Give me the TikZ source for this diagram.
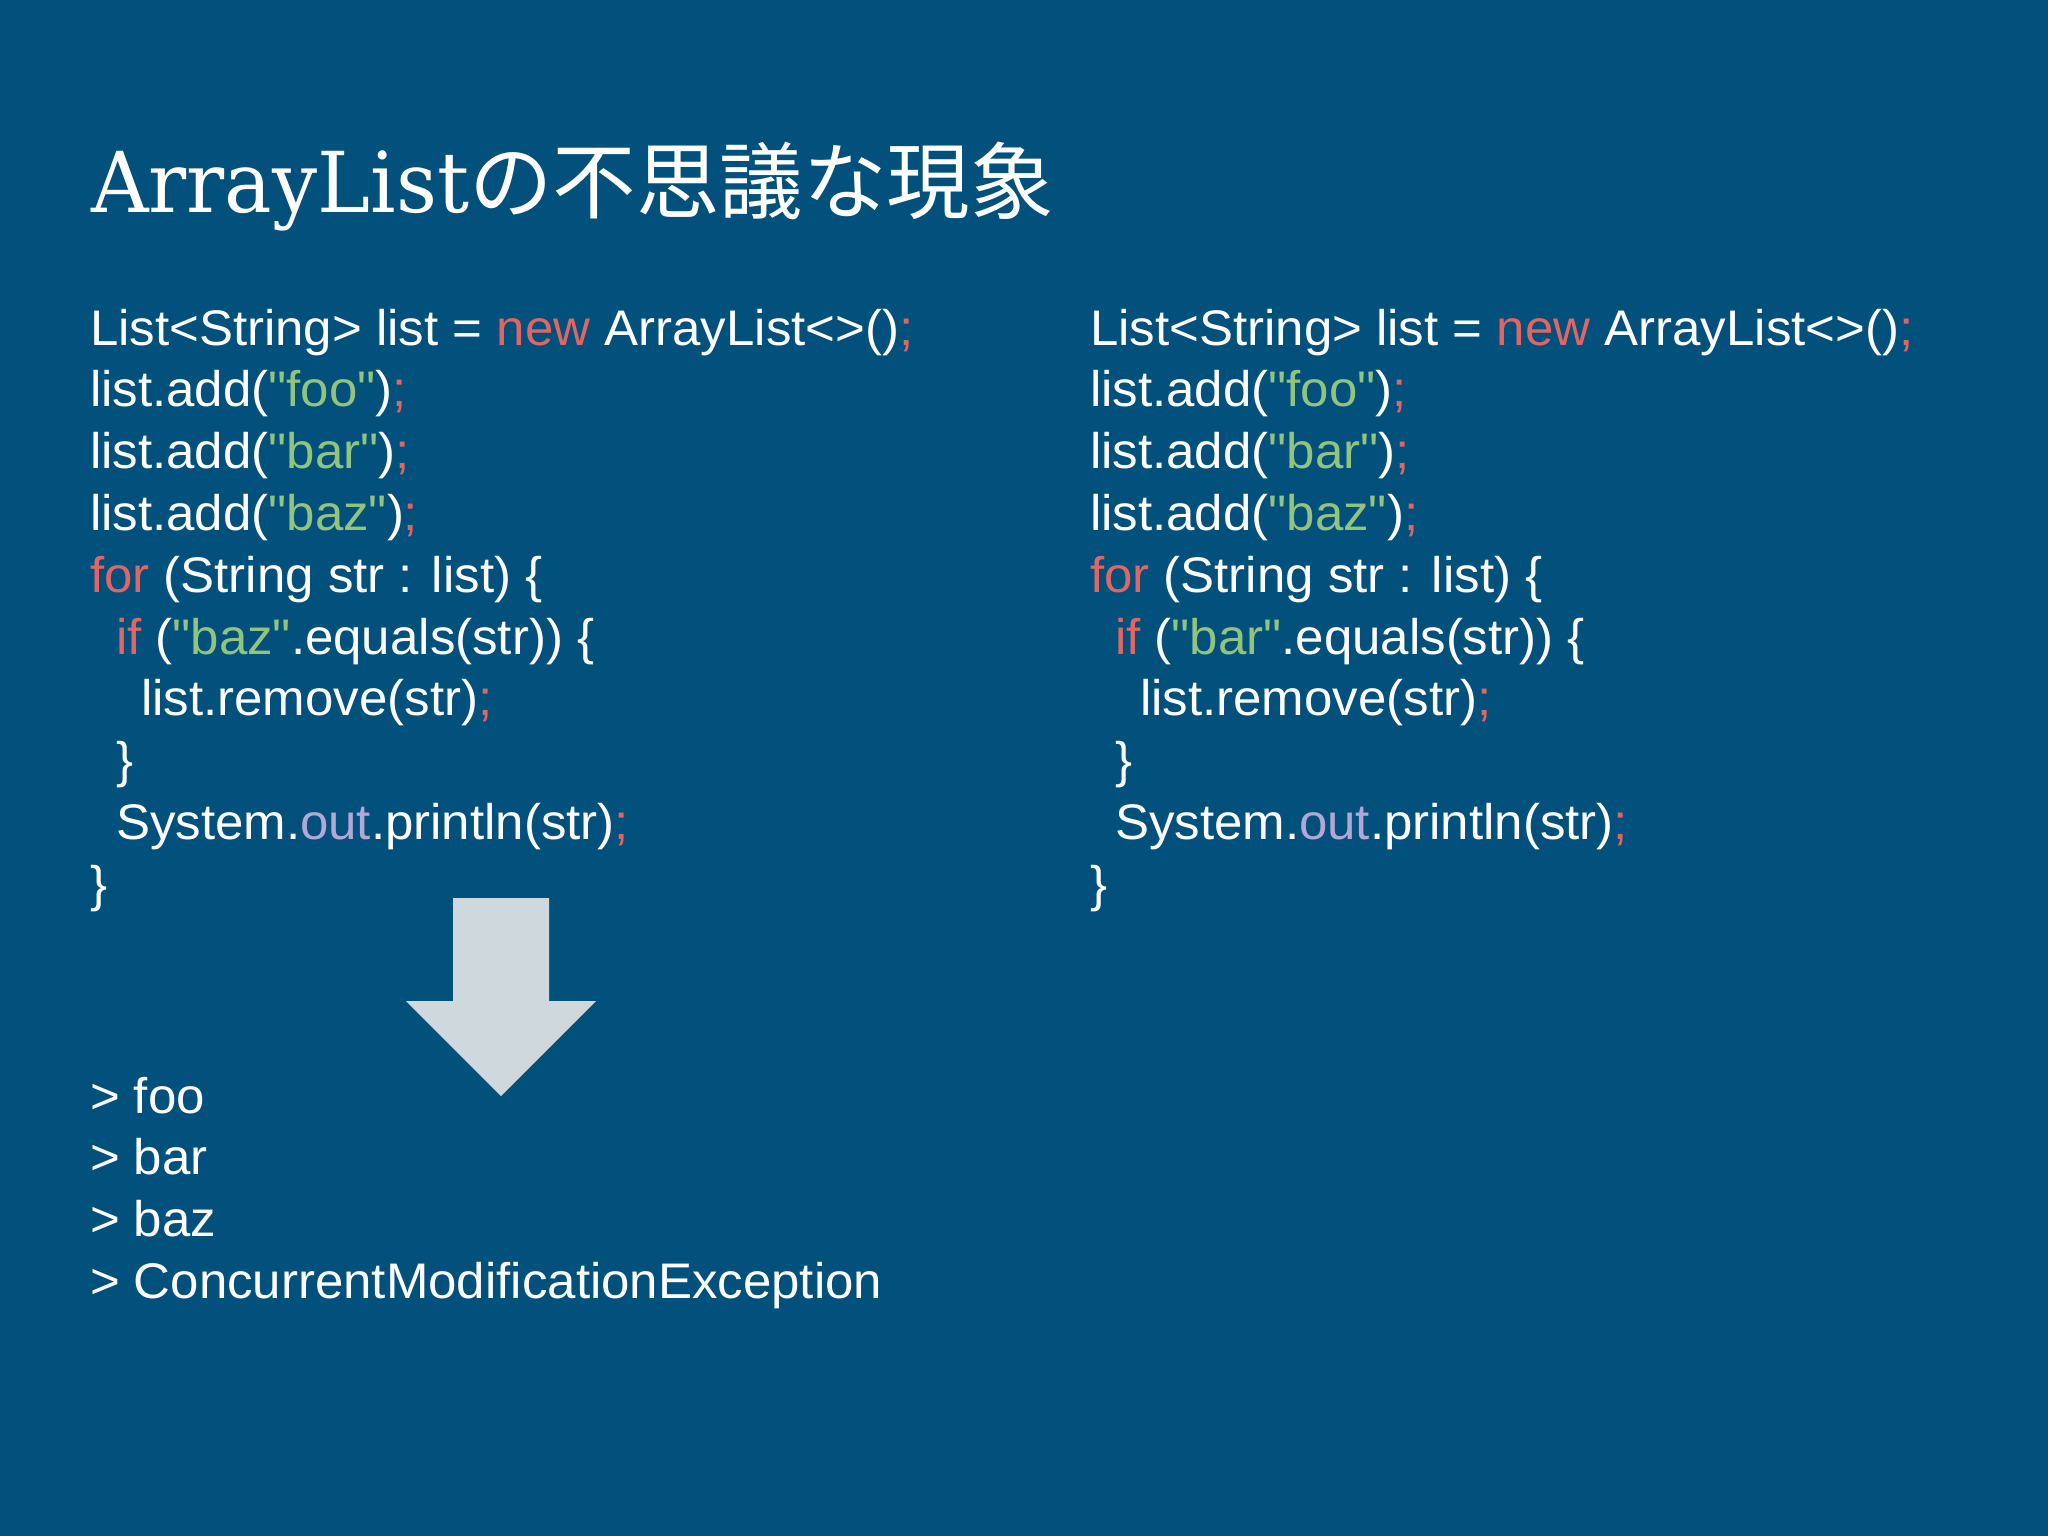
\documentclass[tikz,border=0pt]{standalone}
\usepackage{fontspec}
\setmainfont{Liberation Sans}[Ligatures=TeXOff, FakeStretch=1.02]
\newfontfamily\titlefont[FakeStretch=0.95]{DejaVu Serif}
\newfontfamily\jpfont{Noto Sans CJK JP}
\definecolor{bgblue}{HTML}{02507C}
\definecolor{kwred}{HTML}{E06666}
\definecolor{strgreen}{HTML}{93C47D}
\definecolor{fldpurple}{HTML}{B4A7D6}
\definecolor{arrowgrey}{HTML}{CFD8DC}
\newcommand{\cR}[1]{\textcolor{kwred}{#1}}
\newcommand{\cG}[1]{\textcolor{strgreen}{#1}}
\newcommand{\cP}[1]{\textcolor{fldpurple}{#1}}
\tikzset{
  codeline/.style={anchor=base west, inner sep=0pt, outer sep=0pt, text=white, font=\fontsize{50}{60}\selectfont},
  titletext/.style={anchor=base west, inner sep=0pt, outer sep=0pt, text=white},
  bigarrow/.style={fill=arrowgrey, draw=none}
}
\begin{document}
\begin{tikzpicture}[x=1pt,y=-1pt]
\fill[bgblue] (0,0) rectangle (2048,1536);
\useasboundingbox (0,0) rectangle (2048,1536);
% title
\node[titletext] (title) at (91,212) {\titlefont\fontsize{84}{90}\selectfont ArrayList\jpfont\fontsize{83.5}{90}\selectfont の不思議な現象};
% left code
\node[codeline] (a1) at (90,345) {List<String> list = \cR{new} ArrayList<>()\cR{;}};
\node[codeline] (a2) at (90,406.8) {list.add(\cG{"foo"})\cR{;}};
\node[codeline] (a3) at (90,468.6) {list.add(\cG{"bar"})\cR{;}};
\node[codeline] (a4) at (90,530.4) {list.add(\cG{"baz"})\cR{;}};
\node[codeline] (a5) at (90,592.2) {\cR{for} (String str : list) \{};
\node[codeline] (a6) at (116,654) {\cR{if} (\cG{"baz"}.equals(str)) \{};
\node[codeline] (a7) at (141,715.8) {list.remove(str)\cR{;}};
\node[codeline] (a8) at (116,777.6) {\}};
\node[codeline] (a9) at (116,839.4) {System.\cP{out}.println(str)\cR{;}};
\node[codeline] (a10) at (90,901.2) {\}};
% right code
\node[codeline] (b1) at (1090,345) {List<String> list = \cR{new} ArrayList<>()\cR{;}};
\node[codeline] (b2) at (1090,406.8) {list.add(\cG{"foo"})\cR{;}};
\node[codeline] (b3) at (1090,468.6) {list.add(\cG{"bar"})\cR{;}};
\node[codeline] (b4) at (1090,530.4) {list.add(\cG{"baz"})\cR{;}};
\node[codeline] (b5) at (1090,592.2) {\cR{for} (String str : list) \{};
\node[codeline] (b6) at (1115,654) {\cR{if} (\cG{"bar"}.equals(str)) \{};
\node[codeline] (b7) at (1140,715.8) {list.remove(str)\cR{;}};
\node[codeline] (b8) at (1115,777.6) {\}};
\node[codeline] (b9) at (1115,839.4) {System.\cP{out}.println(str)\cR{;}};
\node[codeline] (b10) at (1090,901.2) {\}};
% arrow
\fill[bigarrow] (453,898) -- (549,898) -- (549,1001) -- (596,1001) -- (501,1096) -- (406,1001) -- (453,1001) -- cycle;
% output
\node[codeline] (o1) at (90,1113) {> foo};
\node[codeline] (o2) at (90,1174.8) {> bar};
\node[codeline] (o3) at (90,1236.6) {> baz};
\node[codeline] (o4) at (90,1298.4) {> ConcurrentModificationException};
\end{tikzpicture}
\end{document}
